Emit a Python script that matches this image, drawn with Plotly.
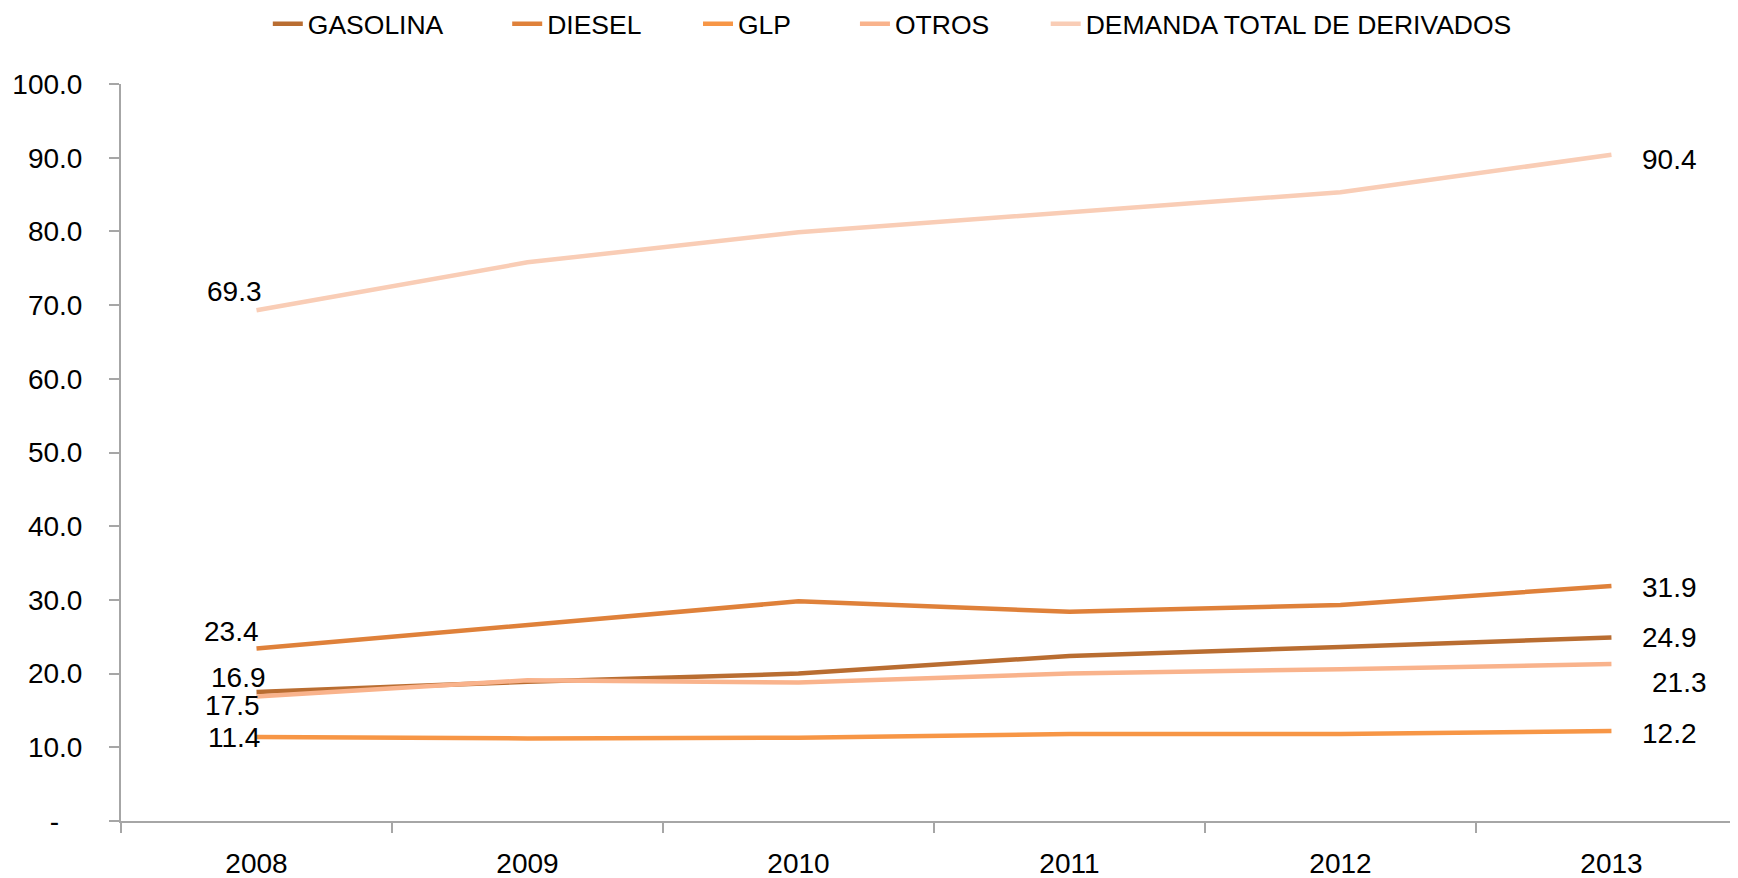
import plotly.graph_objects as go

years = ["2008", "2009", "2010", "2011", "2012", "2013"]
gasolina = [17.5, 18.9, 20.0, 22.4, 23.6, 24.9]
diesel = [23.4, 26.6, 29.8, 28.4, 29.3, 31.9]
glp = [11.4, 11.2, 11.3, 11.8, 11.8, 12.2]
otros = [16.9, 19.1, 18.8, 20.0, 20.6, 21.3]
demanda = [69.3, 75.8, 79.9, 82.6, 85.3, 90.4]

series_names = ["GASOLINA", "DIESEL", "GLP", "OTROS", "DEMANDA TOTAL DE DERIVADOS"]
series_values = [gasolina, diesel, glp, otros, demanda]
series_colors = ["#B96D31", "#DF813A", "#F79646", "#F9B38C", "#F9CDB6"]

y_ticks = [0, 10, 20, 30, 40, 50, 60, 70, 80, 90, 100]
y_ticktext = ["-\u00a0\u00a0\u00a0"] + [f"{v:.1f}" for v in y_ticks[1:]]

# label offsets (px) for first / last points: (xshift, yshift)
first_offsets = [(-24, -13), (-25, 17), (-23, -1), (-18, 19), (-22, 19)]
last_offsets = [(29, 0), (29, -2), (29, -2), (39, -18), (29, -5)]
# extra spacing after each legend entry (non-breaking spaces)
legend_pad = [8, 7, 8, 7, 0]

FONT = "Liberation Sans, Arial, sans-serif"

fig = go.Figure()
for name, vals, col, pad in zip(series_names, series_values, series_colors, legend_pad):
    fig.add_trace(go.Scatter(
        x=years, y=vals, name=name + "\u00a0" * pad, mode="lines",
        line=dict(color=col, width=4.5),
        hoverinfo="skip",
    ))

for vals, fo, lo in zip(series_values, first_offsets, last_offsets):
    fig.add_annotation(
        x=0, y=vals[0], xref="x", yref="y", text=f"{vals[0]:.1f}",
        showarrow=False, xanchor="center", yanchor="middle",
        xshift=fo[0], yshift=fo[1], font=dict(size=28, color="#000000", family=FONT),
    )
    fig.add_annotation(
        x=len(years) - 1, y=vals[-1], xref="x", yref="y", text=f"{vals[-1]:.1f}",
        showarrow=False, xanchor="left", yanchor="middle",
        xshift=lo[0], yshift=lo[1], font=dict(size=28, color="#000000", family=FONT),
    )

fig.update_layout(
    width=1730, height=870,
    margin=dict(l=113, r=0, t=76, b=57, autoexpand=False),
    paper_bgcolor="white", plot_bgcolor="white",
    font=dict(family=FONT, color="#000000"),
    showlegend=True,
    legend=dict(
        orientation="h",
        x=0.477, xanchor="center", y=1.0814, yanchor="middle",
        font=dict(size=26.5, family=FONT, color="#000000"),
        bgcolor="rgba(0,0,0,0)",
    ),
    xaxis=dict(
        type="category", range=[-0.5, 5.467], automargin=False,
        tickson="boundaries", ticks="outside", ticklen=10, tickwidth=1.5,
        tickcolor="#A6A6A6", showline=True, linecolor="#A6A6A6", linewidth=2,
        showgrid=False, zeroline=False, ticklabelstandoff=16,
        tickfont=dict(size=28, family=FONT, color="#000000"),
    ),
    yaxis=dict(
        range=[0, 100], tickvals=y_ticks, ticktext=y_ticktext, automargin=False,
        ticks="outside", ticklen=10, tickwidth=1.5, tickcolor="#A6A6A6",
        showline=True, linecolor="#A6A6A6", linewidth=2,
        showgrid=False, zeroline=False, ticklabelstandoff=21,
        tickfont=dict(size=28, family=FONT, color="#000000"),
    ),
)

fig.write_html("out.html")
